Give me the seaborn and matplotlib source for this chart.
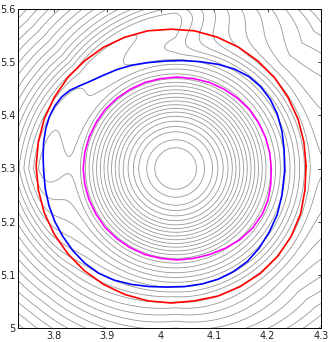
import numpy as np
import pandas as pd
import matplotlib
matplotlib.use("Agg")
import matplotlib.pyplot as plt
import seaborn as sns

# centre of the gray contour family and the contour levels (distance units)
centre = (4.028, 5.300)
levels = [0.039, 0.054, 0.069, 0.079, 0.089, 0.098, 0.106, 0.113, 0.120,
          0.127, 0.134, 0.141, 0.148, 0.155, 0.162, 0.169, 0.178, 0.187,
          0.196, 0.205, 0.214, 0.223, 0.232, 0.241, 0.251, 0.262, 0.274,
          0.287, 0.300, 0.314, 0.328, 0.343, 0.358, 0.374, 0.390, 0.407, 0.425]

# where the field flattens out, by direction from the centre (degrees)
flat_angle = [0, 45, 90, 135, 180, 225, 270, 315]
flat_drop = [0.09, 0.06, 0.08, 0.05, 0.07, 0.025, 0.0, 0.03]
flat_start = [0.245, 0.255, 0.205, 0.185, 0.175, 0.19, 0.20, 0.27]
flat_end = [0.36, 0.40, 0.30, 0.26, 0.26, 0.28, 0.30, 0.40]

# closed curves
red_x = [4.272, 4.268, 4.257, 4.238, 4.213, 4.182, 4.146, 4.106, 4.063, 4.020,
         3.976, 3.933, 3.893, 3.857, 3.826, 3.801, 3.782, 3.771, 3.767, 3.771,
         3.782, 3.801, 3.826, 3.857, 3.893, 3.933, 3.976, 4.020, 4.063, 4.107,
         4.149, 4.187, 4.219, 4.244, 4.262, 4.270, 4.272]
red_y = [5.305, 5.350, 5.393, 5.434, 5.471, 5.502, 5.528, 5.547, 5.559, 5.562,
         5.559, 5.547, 5.528, 5.502, 5.471, 5.434, 5.393, 5.350, 5.305, 5.260,
         5.217, 5.176, 5.140, 5.108, 5.082, 5.063, 5.051, 5.047, 5.051, 5.060,
         5.078, 5.103, 5.135, 5.172, 5.215, 5.260, 5.305]

blue_x = [4.232, 4.231, 4.227, 4.218, 4.205, 4.187, 4.165, 4.138, 4.107, 4.073,
          4.040, 4.007, 3.975, 3.945, 3.918, 3.892, 3.868, 3.847, 3.830, 3.815,
          3.802, 3.792, 3.785, 3.781, 3.780, 3.781, 3.784, 3.791, 3.802, 3.817,
          3.836, 3.858, 3.884, 3.913, 3.945, 3.978, 4.010, 4.045, 4.078, 4.108,
          4.136, 4.162, 4.184, 4.203, 4.218, 4.227, 4.232]
blue_y = [5.296, 5.335, 5.370, 5.403, 5.430, 5.454, 5.473, 5.487, 5.496, 5.501,
          5.503, 5.502, 5.499, 5.494, 5.486, 5.475, 5.464, 5.455, 5.447, 5.435,
          5.418, 5.398, 5.375, 5.350, 5.322, 5.295, 5.262, 5.230, 5.200, 5.172,
          5.145, 5.122, 5.103, 5.090, 5.082, 5.078, 5.077, 5.078, 5.083, 5.092,
          5.106, 5.125, 5.150, 5.180, 5.213, 5.250, 5.296]

mag_x = [4.207, 4.204, 4.196, 4.183, 4.166, 4.144, 4.119, 4.091, 4.062, 4.031,
         4.000, 3.971, 3.943, 3.918, 3.896, 3.879, 3.866, 3.858, 3.855, 3.858,
         3.866, 3.879, 3.896, 3.918, 3.943, 3.971, 4.000, 4.031, 4.062, 4.091,
         4.121, 4.148, 4.172, 4.190, 4.201, 4.206, 4.207]
mag_y = [5.300, 5.330, 5.359, 5.386, 5.411, 5.432, 5.449, 5.462, 5.469, 5.472,
         5.469, 5.462, 5.449, 5.432, 5.411, 5.386, 5.359, 5.330, 5.300, 5.270,
         5.241, 5.214, 5.189, 5.168, 5.151, 5.138, 5.131, 5.128, 5.131, 5.138,
         5.150, 5.166, 5.188, 5.214, 5.241, 5.270, 5.300]

x_ticks = [3.8, 3.9, 4.0, 4.1, 4.2, 4.3]
x_labels = ["3.8", "3.9", "4", "4.1", "4.2", "4.3"]
y_ticks = [5.0, 5.1, 5.2, 5.3, 5.4, 5.5, 5.6]
y_labels = ["5", "5.1", "5.2", "5.3", "5.4", "5.5", "5.6"]

sns.set_style("white")
plt.rcParams["font.family"] = ["DejaVu Sans"]

fig = plt.figure(figsize=(3.32, 3.42), dpi=100)
ax = fig.add_axes([18 / 332, 14 / 342, 303 / 332, 319 / 342])

# field on a grid: distance from the centre, flattened in some directions
gx = np.linspace(3.70, 4.33, 500)
gy = np.linspace(4.97, 5.63, 500)
X, Y = np.meshgrid(gx, gy)
dx, dy = X - centre[0], Y - centre[1]
R = np.hypot(dx, dy)
ang = np.degrees(np.arctan2(dy, dx)) % 360
drop = np.interp(ang, flat_angle, flat_drop, period=360)
r1 = np.interp(ang, flat_angle, flat_start, period=360)
r2 = np.interp(ang, flat_angle, flat_end, period=360)
t = np.clip((R - r1) / (r2 - r1), 0, 1)
Z = R - drop * (3 * t ** 2 - 2 * t ** 3)

ax.contour(X, Y, Z, levels=levels, colors="#979797", linewidths=0.6)

curves = pd.concat([
    pd.DataFrame({"x": red_x, "y": red_y, "curve": "red"}),
    pd.DataFrame({"x": blue_x, "y": blue_y, "curve": "blue"}),
    pd.DataFrame({"x": mag_x, "y": mag_y, "curve": "magenta"}),
])
palette = {"red": "#ff0000", "blue": "#0000ff", "magenta": "#ff00ff"}
sns.lineplot(data=curves, x="x", y="y", hue="curve", units="curve",
             estimator=None, sort=False, palette=palette, linewidth=1.2,
             legend=False, ax=ax, solid_joinstyle="round")

ax.set_xlim(3.733, 4.3)
ax.set_ylim(5.0, 5.6)
ax.set_xticks(x_ticks, x_labels)
ax.set_yticks(y_ticks, y_labels)
ax.set_xlabel("")
ax.set_ylabel("")
ax.tick_params(direction="in", length=2.5, width=0.6, top=True, right=True,
               labelsize=7, pad=2, colors="#222222")
for s in ax.spines.values():
    s.set_linewidth(0.7)
    s.set_color("black")

fig.savefig("out.png", dpi=100)
